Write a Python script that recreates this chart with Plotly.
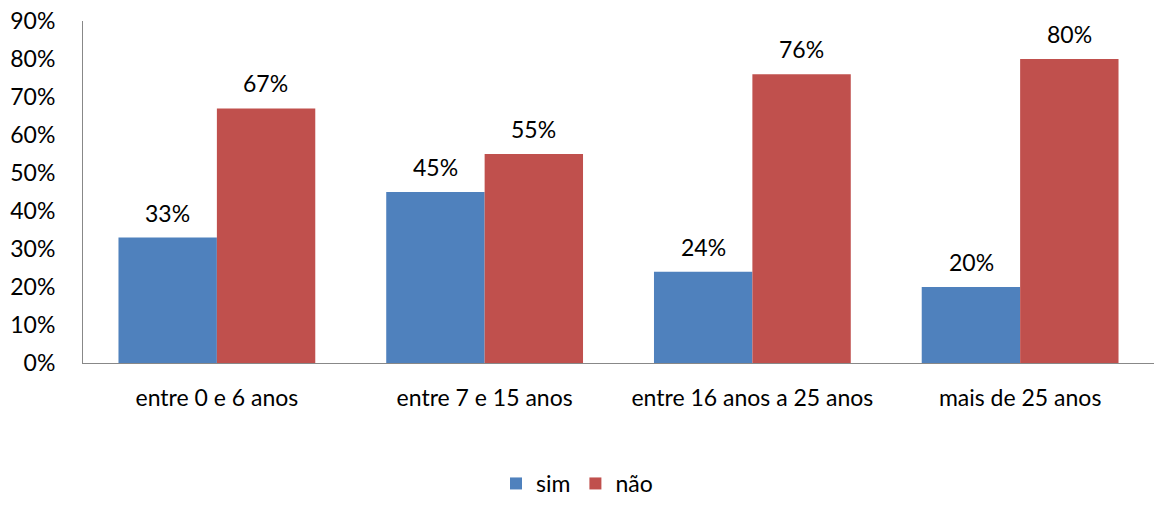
import plotly.graph_objects as go

categories = ["entre 0 e 6 anos", "entre 7 e 15 anos", "entre 16 anos a 25 anos", "mais de 25 anos"]
sim = [0.33, 0.45, 0.24, 0.20]
nao = [0.67, 0.55, 0.76, 0.80]
y_ticks = [0, 0.1, 0.2, 0.3, 0.4, 0.5, 0.6, 0.7, 0.8, 0.9]

FONT = "Lato"
SIZE = 23
BLUE = "#4F81BD"
RED = "#C0504D"

fig = go.Figure()
fig.add_bar(name="sim", x=categories, y=sim, marker=dict(color=BLUE, line=dict(width=0)))
fig.add_bar(name="não", x=categories, y=nao, marker=dict(color=RED, line=dict(width=0)))

# value labels above each bar
half = 49
for series, shift in ((sim, -half), (nao, half)):
    for cat, v in zip(categories, series):
        fig.add_annotation(x=cat, y=v, text=f"{round(v*100)}%", showarrow=False,
                           xshift=shift, yanchor="middle", yshift=25,
                           font=dict(family=FONT, size=SIZE, color="black"))

fig.update_layout(
    width=1154, height=505,
    margin=dict(l=83, r=0, t=21, b=142, autoexpand=False),
    paper_bgcolor="white", plot_bgcolor="white",
    barmode="group", bargap=0.265, bargroupgap=0,
    font=dict(family=FONT, size=SIZE, color="black"),
    showlegend=True,
    legend=dict(orientation="h", x=0.5, xref="container", xanchor="center",
                y=0.0, yref="container", yanchor="bottom",
                font=dict(family=FONT, size=SIZE), itemwidth=30, traceorder="normal"),
    xaxis=dict(showline=True, linecolor="#888888", linewidth=1, ticks="",
               tickfont=dict(family=FONT, size=SIZE), showgrid=False,
               ticklabelstandoff=14),
    yaxis=dict(range=[0, 0.9], tickvals=y_ticks, tickformat=".0%", showline=True,
               linecolor="#888888", linewidth=1, ticks="", showgrid=False,
               zeroline=False, tickfont=dict(family=FONT, size=SIZE),
               ticklabelstandoff=22),
)

fig.write_html("out.html")
